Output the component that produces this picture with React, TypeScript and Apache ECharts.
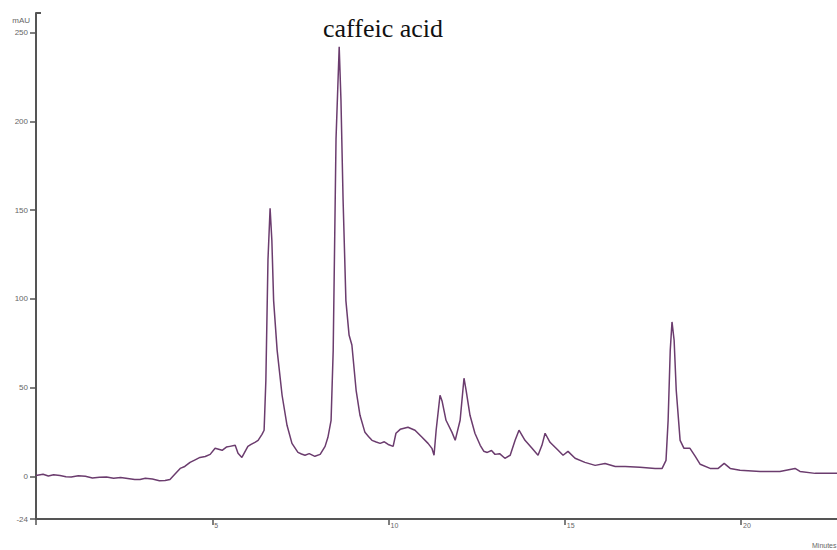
import React, { useEffect, useRef } from "react";
import * as echarts from "echarts";

const titleText = "caffeic acid";
const yUnit = "mAU";
const xUnit = "Minutes";
const yTickValues = [-24, 0, 50, 100, 150, 200, 250];
const xTickValues = [0, 5, 10, 15, 20];
const xLabelValues = [5, 10, 15, 20];

const time = [
  0, 0.2, 0.35, 0.5, 0.68, 0.85, 1.0, 1.2, 1.4, 1.6, 1.8, 2.0, 2.2, 2.4, 2.6, 2.8, 2.95, 3.1,
  3.3, 3.5, 3.66, 3.8, 3.95, 4.09, 4.22, 4.37, 4.5, 4.65, 4.8, 4.94, 5.08,
  5.28, 5.4, 5.5, 5.65, 5.73, 5.84, 6.01, 6.1, 6.21, 6.3, 6.41, 6.47, 6.52, 6.58, 6.64, 6.69, 6.74,
  6.84, 6.98, 7.12, 7.26, 7.43, 7.53, 7.63, 7.75, 7.91, 8.06, 8.2, 8.28, 8.37, 8.43, 8.51, 8.6, 8.65,
  8.71, 8.79, 8.88, 8.96, 9.08, 9.19, 9.33, 9.43, 9.53, 9.65, 9.76, 9.88, 9.99, 10.13, 10.21, 10.33, 10.55,
  10.75, 10.95, 11.12, 11.23, 11.29, 11.35, 11.46, 11.52, 11.63, 11.8, 11.89, 12.03, 12.14,
  12.2, 12.31, 12.45, 12.6, 12.7, 12.8, 12.92, 13.02, 13.15, 13.3, 13.45, 13.59, 13.7, 13.87, 14.07, 14.24,
  14.35, 14.44, 14.58, 14.81, 14.95, 15.09, 15.29, 15.57, 15.86, 16.14, 16.43, 16.71,
  17.13, 17.56, 17.76, 17.87, 17.93, 17.99, 18.04, 18.1, 18.16, 18.27, 18.38, 18.55, 18.7,
  18.84, 19.12, 19.35, 19.52, 19.69, 19.97, 20.54, 21.1, 21.53, 21.67, 22.1, 22.72,
];

const absorbance = [
  0.5, 1.2, 0.2, 0.9, 0.5, -0.2, -0.3, 0.4, 0.1, -0.9, -0.5, -0.3, -1.0, -0.6, -1.2, -1.8, -1.7, -1.1,
  -1.5, -2.4, -2.3, -1.7, 1.5, 4.5, 5.6, 7.9, 9.2, 10.7, 11.2, 12.4, 15.8,
  14.7, 16.5, 16.9, 17.5, 13.0, 10.7, 16.9, 18.0, 19.2, 20.3, 23.7, 26, 54, 122, 151, 133, 99,
  71, 45.7, 28.8, 18.6, 13.5, 12.6, 11.9, 12.8, 11.3, 12.4, 16.9, 22, 31.6, 71, 190, 242, 212,
  156, 99, 79.6, 74, 48.5, 34.4, 24.8, 22.5, 20.3, 19.4, 18.6, 19.5, 18, 16.9, 24.3, 26.5, 27.7,
  26, 22, 18.6, 15.8, 11.9, 26, 45.7, 42.3, 31.6, 24.8, 20.3, 31.6, 55.3,
  48.5, 34.4, 24.3, 17.5, 14.2, 13.5, 14.6, 12.4, 12.8, 10.2, 11.9, 20.3, 26, 20.3, 15.8, 11.9,
  17.5, 24.3, 19.2, 14.7, 11.9, 14.1, 10.2, 7.9, 6.2, 7.3, 5.6, 5.6,
  5.1, 4.5, 4.5, 9, 31.6, 71, 87, 76.7, 48.5, 20.3, 15.8, 15.8, 11.3,
  6.8, 4.5, 4.5, 7.3, 4.5, 3.4, 2.8, 2.8, 4.5, 2.8, 1.7, 1.7,
];

export default function App() {
  const ref = useRef<HTMLDivElement>(null);
  useEffect(() => {
    if (!ref.current) return;
    const chart = echarts.init(ref.current, null, { renderer: "svg" });
    const axisColor = "#555";
    const labelColor = "#666";
    chart.setOption({
      animation: false,
      backgroundColor: "#fff",
      grid: { left: 36, right: 0, top: 13, bottom: 31 },
      xAxis: {
        type: "value",
        min: 0,
        max: 22.72,
        axisLine: { show: true, onZero: false, lineStyle: { color: axisColor, width: 2 } },
        axisTick: { show: true, length: 6, customValues: xTickValues, lineStyle: { color: axisColor, width: 1.5 } },
        axisLabel: {
          customValues: xLabelValues,
          fontSize: 7,
          color: labelColor,
          align: "left",
          margin: 3,
          padding: [0, 0, 0, 2],
        },
        splitLine: { show: false },
      },
      yAxis: {
        type: "value",
        min: -24,
        max: 261,
        axisLine: { show: true, lineStyle: { color: axisColor, width: 2 } },
        axisTick: { show: true, length: 6, customValues: yTickValues, lineStyle: { color: axisColor, width: 1.5 } },
        axisLabel: { customValues: yTickValues, fontSize: 8, color: labelColor, margin: 8 },
        splitLine: { show: false },
      },
      series: [
        {
          type: "line",
          data: time.map((t, i) => [t, absorbance[i]]),
          showSymbol: false,
          lineStyle: { color: "#6b3c6e", width: 1.5 },
        },
      ],
      graphic: [
        {
          type: "text",
          x: 383,
          y: 28,
          style: {
            text: titleText,
            font: '26px "Liberation Serif", "Times New Roman", serif',
            fill: "#111",
            textAlign: "center",
            textVerticalAlign: "middle",
          },
        },
        {
          type: "text",
          x: 30,
          y: 20,
          style: {
            text: yUnit,
            fontSize: 8,
            fill: labelColor,
            textAlign: "right",
            textVerticalAlign: "middle",
          },
        },
        {
          type: "line",
          shape: { x1: 36, y1: 13, x2: 41, y2: 13 },
          style: { stroke: axisColor, lineWidth: 2 },
        },
        {
          type: "text",
          x: 812,
          y: 545,
          style: {
            text: xUnit,
            fontSize: 7,
            fill: labelColor,
            textAlign: "left",
            textVerticalAlign: "middle",
          },
        },
      ],
    });
    return () => chart.dispose();
  }, []);
  return <div ref={ref} style={{ width: 837, height: 550, position: "absolute", left: 0, top: 0 }} />;
}
